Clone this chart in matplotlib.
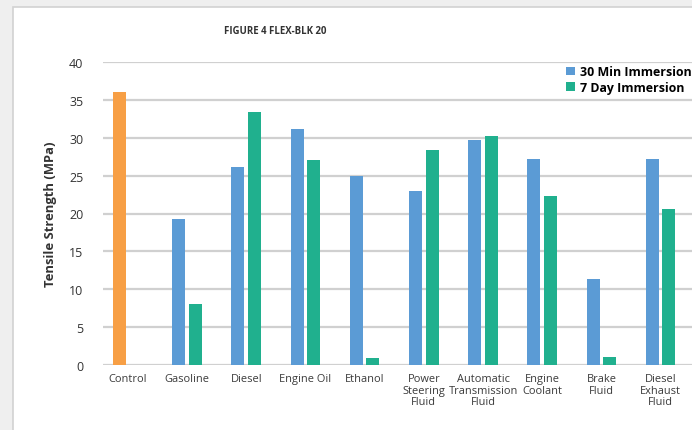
import numpy as np
import matplotlib.pyplot as plt
from matplotlib.patches import Rectangle

plt.rcParams['font.family'] = ['Open Sans', 'DejaVu Sans']

# data
categories = ["Control", "Gasoline", "Diesel", "Engine Oil", "Ethanol",
              "Power\nSteering\nFluid", "Automatic\nTransmission\nFluid",
              "Engine\nCoolant", "Brake\nFluid", "Diesel\nExhaust\nFluid"]
control = [36.0]
min30 = [19.3, 26.1, 31.1, 25.0, 23.0, 29.7, 27.2, 11.3, 27.2]
day7 = [8.0, 33.4, 27.1, 0.9, 28.4, 30.2, 22.3, 1.1, 20.6]
yticks = [0, 5, 10, 15, 20, 25, 30, 35, 40]

fig = plt.figure(figsize=(6.92, 4.31), dpi=100)
fig.patch.set_facecolor('#efefef')
# white panel behind the chart
fig.patches.append(Rectangle((13/692, -0.1), 1.0, 1.1 - 8/431, transform=fig.transFigure,
                             facecolor='white', edgecolor='#d2d2d2', linewidth=1.2, zorder=-10))

ax = fig.add_axes([103/692, 1 - 366/431, 1 - 103/692, (366 - 63)/431])
ax.set_facecolor('none')

x = np.arange(len(categories))
w = 0.22
off = 0.14
ax.bar(x[0] - off, control, width=w, color='#F79F45', zorder=3)
ax.bar(x[1:] - off, min30, width=w, color='#5B9BD5', zorder=3, label='30 Min Immersion')
ax.bar(x[1:] + off, day7, width=w, color='#20B08E', zorder=3, label='7 Day Immersion')

ax.set_xlim(-0.42, 9.53)
ax.set_ylim(0, 40)
ax.set_yticks(yticks)
ax.yaxis.grid(True, color='#d0d0d0', linewidth=1.6, zorder=0)
ax.set_axisbelow(True)
for s in ax.spines.values():
    s.set_visible(False)
ax.tick_params(axis='y', length=0, labelsize=9, labelcolor='#333333', pad=14)
ax.tick_params(axis='x', length=0, labelsize=7.9, labelcolor='#3a3a3a', pad=6)
ax.set_xticks(x)
ax.set_xticklabels(categories, linespacing=1.05)

ax.set_ylabel('Tensile Strength (MPa)', fontsize=9.4, fontweight='bold', color='#333333', labelpad=9)

fig.text(275/692, 1 - 31/431, 'FIGURE 4 FLEX-BLK 20', ha='center', va='center',
         fontsize=6.9, fontweight='bold', color='#333333')

ax.legend(loc='upper left', bbox_to_anchor=(564/692, 1 - 64/431), bbox_transform=fig.transFigure,
          frameon=False, prop={'weight': 'bold', 'size': 8.9},
          handlelength=0.7, handleheight=0.7, handletextpad=0.4, labelspacing=0.2,
          borderpad=0.2, borderaxespad=0)

fig.savefig('out.png', dpi=100, facecolor=fig.get_facecolor())
